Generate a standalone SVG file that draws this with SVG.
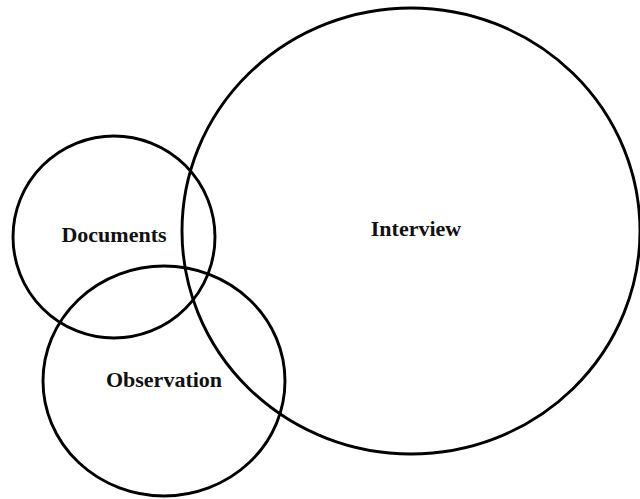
<svg xmlns="http://www.w3.org/2000/svg" width="640" height="499" viewBox="0 0 640 499">
  <style>
    .ring { fill: none; stroke: #000; stroke-width: 2.9; }
    .label { font-family: "Liberation Serif", "Times New Roman", serif; font-weight: bold; font-size: 22px; fill: #111; text-anchor: middle; }
  </style>
  <rect width="640" height="499" fill="#fff"/>
  <g id="interview">
    <ellipse class="ring" cx="411" cy="231" rx="229" ry="223"/>
    <text class="label" x="416" y="236">Interview</text>
  </g>
  <g id="documents">
    <ellipse class="ring" cx="114" cy="237" rx="101" ry="101"/>
    <text class="label" x="114" y="242">Documents</text>
  </g>
  <g id="observation">
    <ellipse class="ring" cx="164" cy="381" rx="121" ry="115"/>
    <text class="label" x="164" y="387">Observation</text>
  </g>
  <g id="connectors"/>
</svg>
